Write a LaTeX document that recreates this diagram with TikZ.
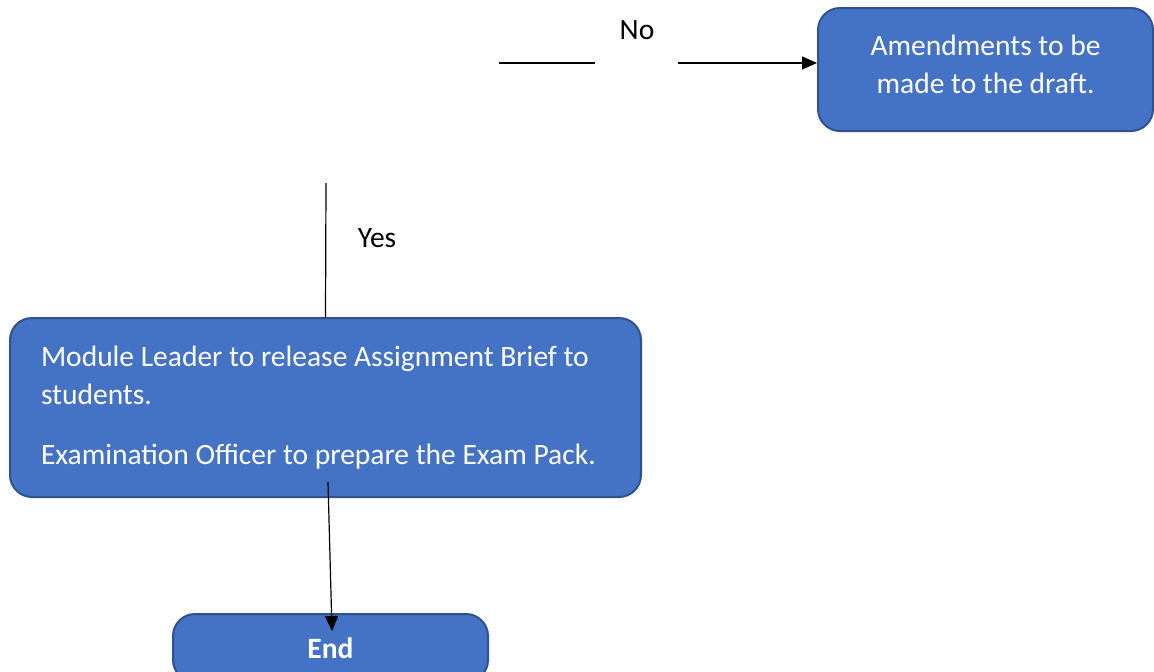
\documentclass[tikz,border=0pt]{standalone}
\usepackage{fontspec}
\setmainfont{Carlito}
\usetikzlibrary{arrows.meta}
\definecolor{BoxClr}{HTML}{4472C4}
\definecolor{EdgeClr}{HTML}{2F528F}

\begin{document}
\begin{tikzpicture}[x=1pt,y=-1pt,
  box/.style={draw=EdgeClr,fill=BoxClr,line width=2pt,rounded corners=22pt,
    text=white,font=\fontsize{29.5}{38}\selectfont,inner sep=0pt},
  lbl/.style={font=\fontsize{29.5}{38}\selectfont,inner sep=0pt},
  link/.style={line width=1.2pt},
  tip/.style={line width=1.2pt,-{Triangle[length=15pt,width=13pt]}}]
\useasboundingbox (0,0) rectangle (1154,672);

\node[box,minimum width=335pt,minimum height=123pt,align=center,text depth=10pt] (amend) at (985.5,69.5)
  {Amendments to be\\made to the draft.};
\node[box,minimum width=631pt,minimum height=179pt,text width=569pt,align=flush left] (release) at (325.5,407.5)
  {Module Leader to release Assignment Brief to\\students.\\[22pt]Examination Officer to prepare the Exam Pack.};
\node[box,minimum width=315pt,minimum height=68pt,font=\fontsize{29.5}{38}\selectfont\bfseries] (finish) at (330.5,648)
  {End};

\coordinate (noA) at (499,63);
\coordinate (noB) at (595,63);
\coordinate (noC) at (678,63);
\coordinate (yesA) at (326,183);
\coordinate (endA) at (328,482);
\coordinate (endB) at (332,631);

\node[lbl] (no) at (637,30) {No};
\node[lbl] (yes) at (377,238) {Yes};

\draw[link] (noA) -- (noB);
\draw[tip] (noC) -- (noC -| amend.west);
\draw[link] (yesA) -- (release.north);
\draw[tip] (endA) -- (endB);

\end{tikzpicture}
\end{document}
